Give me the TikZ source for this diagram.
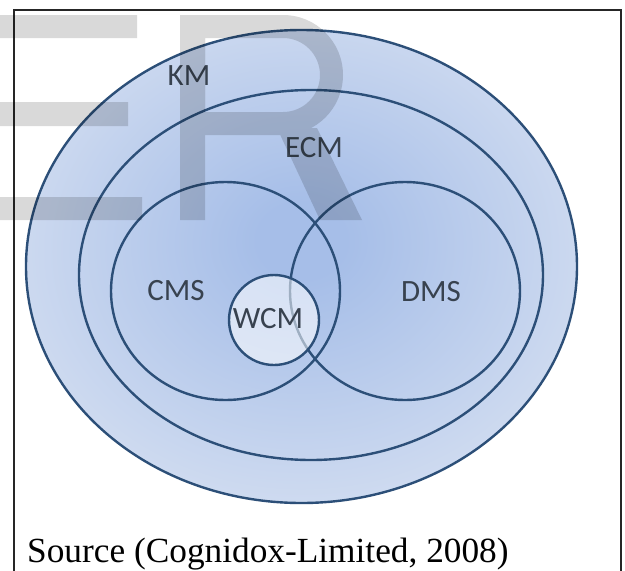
\documentclass[tikz,border=0pt]{standalone}
\usepackage{fontspec}
\setmainfont{Liberation Serif}
\newfontfamily\labelfont{Carlito}
\definecolor{ringline}{HTML}{2C4F78}
\definecolor{glowin}{HTML}{A6BEE8}
\definecolor{glowout}{HTML}{CFDBF0}
\definecolor{labeltext}{HTML}{38424F}
\pgfdeclareradialshading{kmglow}{\pgfpoint{0bp}{3bp}}{color(0bp)=(glowin); color(4bp)=(glowin); color(27bp)=(glowout); color(50bp)=(glowout)}

\begin{document}
\begin{tikzpicture}[x=1pt,y=-1pt,
  ring/.style={draw=ringline, line width=2.4pt},
  setlabel/.style={font=\labelfont\fontsize{31}{31}\selectfont, text=labeltext, inner sep=0pt},
  mark gray/.style={fill=black}
]
\useasboundingbox (0,0) rectangle (625,571);
\fill[white] (0,0) rectangle (625,571);

% outer frame (runs past the lower edge)
\begin{scope}
  \clip (0,0) rectangle (625,571);
  \draw[line width=2.2pt, black!85] (14,10) rectangle (621,600);
\end{scope}

% KM with its soft blue glow
\path[shading=kmglow] (301.5,266.5) ellipse [x radius=275.5pt, y radius=236.5pt];
\draw[ring] (301.5,266.5) ellipse [x radius=275.5pt, y radius=236.5pt];
% ECM
\draw[ring] (311,275) ellipse [x radius=232pt, y radius=185pt];
% CMS and DMS
\draw[ring] (225.5,291) ellipse [x radius=114.5pt, y radius=109pt];
\draw[ring] (405,291) ellipse [x radius=115pt, y radius=109pt];
% WCM, lighter inside
\fill[white, opacity=0.55] (274,320) circle [radius=45pt];
\draw[ring] (274,320) circle [radius=45pt];

% set labels
\node[setlabel] (km)  at (189,76)  {KM};
\node[setlabel] (ecm) at (314,148) {ECM};
\node[setlabel] (cms) at (176,291) {CMS};
\node[setlabel] (dms) at (431,292) {DMS};
\node[setlabel] (wcm) at (268,319) {WCM};

% caption
\node[anchor=base west, inner sep=0pt, font=\fontsize{35.3}{40}\selectfont] (src) at (27,562) {Source (Cognidox-Limited, 2008)};

% grey watermark letters
\begin{scope}[transparency group, opacity=0.15]
  \fill[mark gray] (-5,15) rectangle (137,38);
  \fill[mark gray] (-5,102) rectangle (128,126);
  \fill[mark gray] (-5,197) rectangle (142,220);
  \fill[mark gray] (180,15) rectangle (205,220);
  \fill[mark gray, even odd rule]
    (180,15) -- (283,15) arc [start angle=90, end angle=-90, radius=60pt] -- (180,135) -- cycle
    (205,38) -- (283,38) arc [start angle=90, end angle=-90, radius=37pt] -- (205,112) -- cycle;
  \fill[mark gray] (277,128) -- (317,128) -- (362,220) -- (320,220) -- cycle;
\end{scope}
\end{tikzpicture}
\end{document}
